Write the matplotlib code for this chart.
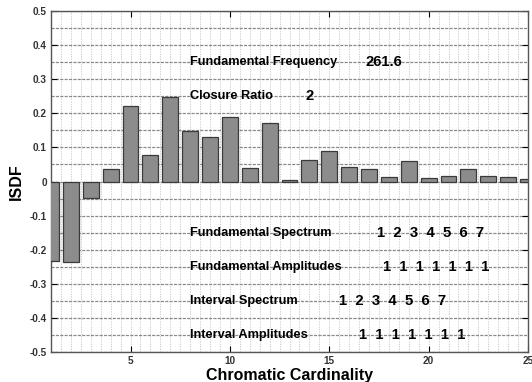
import numpy as np
import matplotlib
matplotlib.use("Agg")
import matplotlib.pyplot as plt
from matplotlib.ticker import MultipleLocator

plt.rcParams['font.family'] = ['Liberation Sans', 'DejaVu Sans']

# ISDF value for each chromatic cardinality
cardinality = list(range(1, 26))
isdf = [-0.233, -0.236, -0.047, 0.036, 0.221, 0.078, 0.248, 0.148, 0.131,
        0.188, 0.041, 0.172, 0.003, 0.063, 0.090, 0.042, 0.036, 0.0135,
        0.060, 0.011, 0.0156, 0.036, 0.0156, 0.0135, 0.006]

# Annotation rows: (label, value string, y, x of the value string)
ann_labels = ["Fundamental Frequency", "Closure Ratio",
              "Fundamental Spectrum", "Fundamental Amplitudes",
              "Interval Spectrum", "Interval Amplitudes"]
ann_values = ["261.6", "2", "1  2  3  4  5  6  7", "1  1  1  1  1  1  1",
              "1  2  3  4  5  6  7", "1  1  1  1  1  1  1"]
ann_y = [0.35, 0.25, -0.15, -0.25, -0.35, -0.45]
ann_value_x = [16.8, 13.8, 17.4, 17.7, 15.5, 16.5]
ann_label_x = 8

fig = plt.figure(figsize=(5.32, 3.82), dpi=100)
ax = fig.add_axes([51/532, 1 - 352/382, (528-51)/532, (352-11)/382])

ax.bar(cardinality, isdf, width=0.8, color='#8c8c8c', edgecolor='#3a3a3a',
       linewidth=0.9, zorder=3)

ax.set_xlim(1, 25)
ax.set_ylim(-0.5, 0.5)
ax.xaxis.set_major_locator(MultipleLocator(5))
ax.xaxis.set_minor_locator(MultipleLocator(0.5))
ax.yaxis.set_major_locator(MultipleLocator(0.1))
ax.yaxis.set_minor_locator(MultipleLocator(0.05))

ax.grid(which='both', axis='y', color='#8a8a8a', linestyle=(0, (2.5, 1)),
        linewidth=0.9, zorder=0)
ax.grid(which='both', axis='x', color='#c4c4c4', linestyle=(0, (1.5, 1.5)),
        linewidth=0.6, zorder=0)

ax.tick_params(which='major', direction='in', length=4, width=0.8,
               top=True, right=True, labelsize=7.2, pad=3)
ax.tick_params(which='minor', length=0)
ax.set_yticks(np.arange(-0.5, 0.51, 0.1))
ax.set_yticklabels(['-0.5', '-0.4', '-0.3', '-0.2', '-0.1', '0',
                    '0.1', '0.2', '0.3', '0.4', '0.5'])
for lab in ax.get_xticklabels() + ax.get_yticklabels():
    lab.set_fontweight('bold')
    lab.set_color('#333333')

for sp in ax.spines.values():
    sp.set_color('#555555')
    sp.set_linewidth(1.0)

ax.set_xlabel('Chromatic Cardinality', fontsize=11.5, fontweight='bold', labelpad=1)
ax.set_ylabel('ISDF', fontsize=11.5, fontweight='bold', labelpad=4)

for lab, val, y, vx in zip(ann_labels, ann_values, ann_y, ann_value_x):
    ax.text(ann_label_x, y, lab, fontsize=9.2, fontweight='bold',
            va='center', ha='left', zorder=4)
    ax.text(vx, y, val, fontsize=10.7, fontweight='bold',
            va='center', ha='left', zorder=4)

fig.savefig('out.png', dpi=100)
